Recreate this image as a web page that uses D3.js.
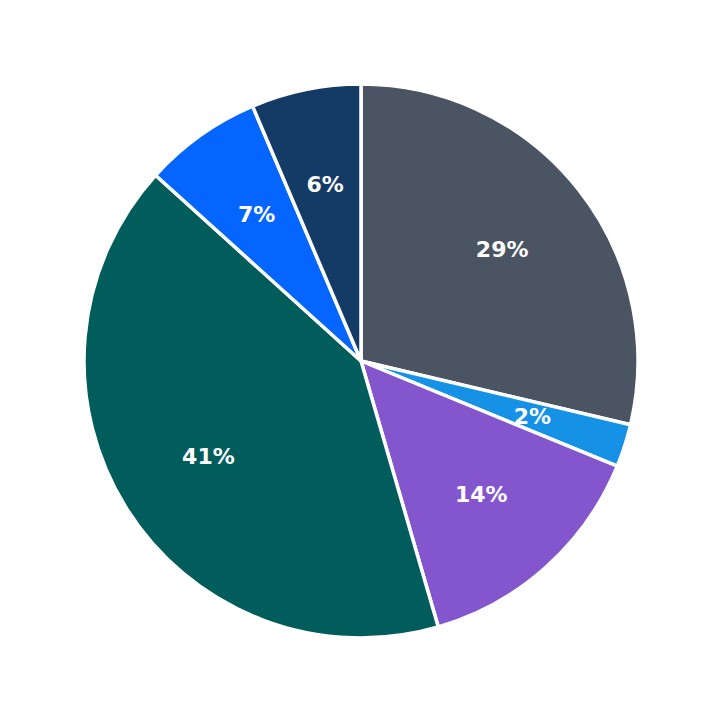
<!DOCTYPE html>
<html><head><meta charset="utf-8">
<script src="https://cdn.jsdelivr.net/npm/d3@7"></script>
<style>html,body{margin:0;padding:0;background:#fff;}</style>
</head><body>
<div id="chart"></div>
<script>
const categories = ["A", "B", "C", "D", "E", "F"];
const values = [28.7, 2.5, 14.3, 41.2, 6.9, 6.4];
const labels = ["29%", "2%", "14%", "41%", "7%", "6%"];
const colors = ["#4a5462", "#1592e6", "#8456ce", "#015c5c", "#0566ff", "#143a66"];

const W = 723, H = 723, cx = 361, cy = 361, R = 277, labelR = 180;
const svg = d3.select("#chart").append("svg").attr("width", W).attr("height", H);
const g = svg.append("g").attr("transform", `translate(${cx},${cy})`);
const data = categories.map((c, i) => ({c, v: values[i], l: labels[i], col: colors[i]}));
const pie = d3.pie().value(d => d.v).sort(null);
const arc = d3.arc().innerRadius(0).outerRadius(R);
const labArc = d3.arc().innerRadius(labelR).outerRadius(labelR);
const arcs = pie(data);
g.selectAll("path").data(arcs).join("path")
  .attr("d", arc).attr("fill", d => d.data.col)
  .attr("stroke", "#fff").attr("stroke-width", 3.5).attr("stroke-linejoin", "round");
g.selectAll("text").data(arcs).join("text")
  .attr("transform", d => `translate(${labArc.centroid(d)})`)
  .attr("text-anchor", "middle").attr("dominant-baseline", "central")
  .attr("fill", "#fff").attr("font-family", "DejaVu Sans, sans-serif")
  .attr("font-weight", "bold").attr("font-size", 22)
  .text(d => d.data.l);
</script>
</body></html>
